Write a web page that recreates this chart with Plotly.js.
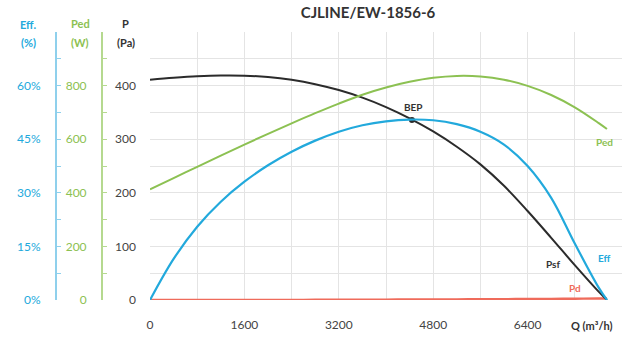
<!DOCTYPE html>
<html>
<head>
<meta charset="utf-8">
<script src="https://cdn.plot.ly/plotly-3.0.1.min.js"></script>
<style>html,body{margin:0;padding:0;background:#fff;}#chart{width:622px;height:340px;}</style>
</head>
<body>
<div id="chart"></div>
<script>
// Flow rate Q (m3/h)
const Q   = [0,400,800,1200,1600,2000,2400,2800,3200,3600,4000,4400,4800,5200,5600,6000,6400,6800,7200,7600,7745];
// Static pressure Psf (Pa)
const psf = [411,414.5,417.3,418.8,418.5,415.9,410.7,402.7,391.7,377.5,359.9,338.9,314.4,285.9,253,213,166,116,65,16,0];
// Efficiency Eff (%)
const eff = [0,11.5,20.5,27.5,33.1,37.7,41.5,44.6,47.1,48.9,50.0,50.5,50.3,49.2,47.1,43.5,37.5,28.6,15.8,3.6,0];
// Shaft power Ped (W)
const ped = [413,455,497,539,580,620,659,697,733,766,793,814,829,836,834,822,799,765,719,661,638];
// Dynamic pressure Pd (Pa)
const pd  = [0,0.01,0.03,0.07,0.12,0.18,0.27,0.36,0.47,0.6,0.74,0.9,1.07,1.25,1.45,1.66,1.9,2.14,2.4,2.66,2.76];
// Best efficiency point
const bepQ = [4440];
const bepP = [336];

// Tick labels
const xTicks = [0,1600,3200,4800,6400];
const pTicks = [0,100,200,300,400];
const pedTicks = [0,200,400,600,800];
const effTicks = [0,15,30,45,60];
const effText = effTicks.map(v => v + '%');

const BLUE = '#22a9dc', GREEN = '#8cc152', BLACK = '#2b2b2b', RED = '#ef6b5b';
const FONT = 'Lato, "Open Sans", sans-serif';
const W = 622, H = 340, L = 0, R = 0, T = 32, B = 40;
const px = x => (x - L) / (W - L - R);
const py = y => (H - B - y) / (H - T - B);

const line = (c, w) => ({color: c, width: w, shape: 'spline', smoothing: 1});
const traces = [
  {x: Q, y: pd, type: 'scatter', mode: 'lines', line: line(RED, 2.4), yaxis: 'y'},
  {x: Q, y: ped, type: 'scatter', mode: 'lines', line: line(GREEN, 2), yaxis: 'y2'},
  {x: Q, y: eff, type: 'scatter', mode: 'lines', line: line(BLUE, 2.2), yaxis: 'y3'},
  {x: Q, y: psf, type: 'scatter', mode: 'lines', line: line(BLACK, 2), yaxis: 'y'},
  {x: bepQ, y: bepP, type: 'scatter', mode: 'markers', marker: {color: BLACK, size: 6}, yaxis: 'y'}
];

const grid = '#e4e4e4';
const hdr = (text, x, y, color) => ({text: '<b>' + text + '</b>', xref: 'paper', yref: 'paper',
  x: px(x), y: py(y), xanchor: 'center', yanchor: 'middle', showarrow: false,
  font: {family: FONT, size: 11, color: color}});
const lbl = (text, x, y, color) => ({text: '<b>' + text + '</b>', xref: 'x', yref: 'y',
  x: x, y: y, xanchor: 'center', yanchor: 'middle', showarrow: false,
  font: {family: FONT, size: 10, color: color}});

const layout = {
  width: W, height: H,
  margin: {l: L, r: R, t: T, b: B, autoexpand: false},
  paper_bgcolor: '#fff', plot_bgcolor: '#fff',
  showlegend: false,
  font: {family: FONT, size: 12, color: '#444'},
  title: {text: '<b>CJLINE/EW-1856-6</b>', font: {family: FONT, size: 15, color: '#333'},
          x: 368 / W, xanchor: 'center', xref: 'container', y: 1 - 13 / H, yanchor: 'middle', yref: 'container'},
  xaxis: {
    domain: [px(150), 1], range: [0, 8000],
    tickmode: 'array', tickvals: xTicks,
    showgrid: true, gridcolor: grid, gridwidth: 1,
    minor: {tickvals: [800,2400,4000,5600,7200,8000], showgrid: true, gridcolor: grid, gridwidth: 1},
    zeroline: false, showline: false, ticks: '', ticklabelstandoff: 16,
    tickfont: {family: FONT, size: 12, color: '#444'}
  },
  yaxis: {
    range: [0, 500], tickmode: 'array', tickvals: pTicks,
    showgrid: true, gridcolor: grid, gridwidth: 1,
    minor: {tickvals: [50,150,250,350,450,500], showgrid: true, gridcolor: grid, gridwidth: 1},
    zeroline: false, showline: false, ticks: '', ticklabelstandoff: 13,
    tickfont: {family: FONT, size: 12, color: '#444'}
  },
  yaxis2: {
    overlaying: 'y', anchor: 'free', position: px(101), side: 'left',
    range: [0, 1000], tickmode: 'array', tickvals: pedTicks,
    showgrid: false, zeroline: false,
    showline: true, linecolor: '#b5d98f', linewidth: 1.5,
    ticks: 'inside', ticklen: 4, tickcolor: '#b5d98f', tickwidth: 1,
    minor: {tickvals: [100,300,500,700,900], ticks: 'inside', ticklen: 4, tickcolor: '#b5d98f', showgrid: false},
    ticklabelstandoff: 12,
    tickfont: {family: FONT, size: 12, color: GREEN}
  },
  yaxis3: {
    overlaying: 'y', anchor: 'free', position: px(55), side: 'left',
    range: [0, 75], tickmode: 'array', tickvals: effTicks, ticktext: effText,
    showgrid: false, zeroline: false,
    showline: true, linecolor: '#8fd0ec', linewidth: 1.5,
    ticks: 'inside', ticklen: 4, tickcolor: '#8fd0ec', tickwidth: 1,
    minor: {tickvals: [7.5,22.5,37.5,52.5,67.5], ticks: 'inside', ticklen: 4, tickcolor: '#8fd0ec', showgrid: false},
    ticklabelstandoff: 12,
    tickfont: {family: FONT, size: 12, color: BLUE}
  },
  annotations: [
    hdr('Eff.', 28, 25, BLUE),
    hdr('(%)', 28, 43, BLUE),
    hdr('Ped', 80, 24, GREEN),
    hdr('(W)', 80, 43, GREEN),
    hdr('P', 125, 23, '#333'),
    hdr('(Pa)', 126, 43, '#333'),
    {text: '<b>Q (m³/h)</b>', xref: 'paper', yref: 'paper', x: px(569), y: py(325), xanchor: 'left', yanchor: 'middle',
     showarrow: false, font: {family: FONT, size: 11, color: '#333'}},
    lbl('BEP', 4460, 360, '#333'),
    lbl('Psf', 6830, 68, '#333'),
    lbl('Eff', 7710, 78, BLUE),
    lbl('Pd', 7200, 22, RED),
    lbl('Ped', 7700, 294, GREEN)
  ]
};

Plotly.newPlot('chart', traces, layout, {displayModeBar: false, staticPlot: true});
</script>
</body>
</html>
